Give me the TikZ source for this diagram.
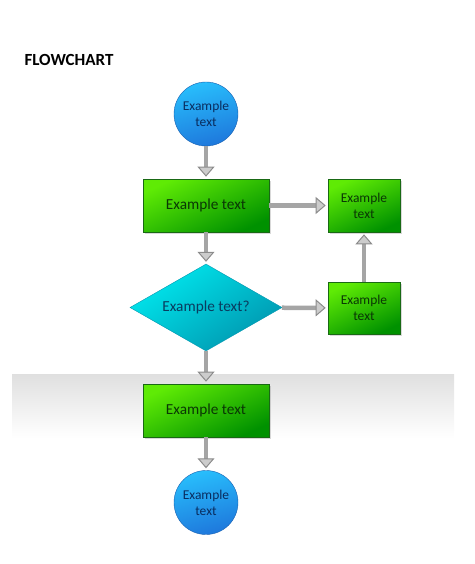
\documentclass[tikz,border=0pt]{standalone}
\usepackage{fontspec}
\setmainfont{Carlito}
\usetikzlibrary{arrows.meta,shapes.geometric,shadows}

\definecolor{greenlight}{RGB}{95,235,5}
\definecolor{greendark}{RGB}{0,145,0}
\definecolor{greenline}{RGB}{25,105,20}
\definecolor{bluelight}{RGB}{40,190,252}
\definecolor{bluedark}{RGB}{30,120,220}
\definecolor{cyanlight}{RGB}{0,232,238}
\definecolor{cyandark}{RGB}{0,150,175}
\definecolor{arrowgray}{RGB}{165,165,165}

\tikzset{
	greenbox/.style={rectangle, draw=greenline, line width=0.6pt, top color=greenlight, bottom color=greendark, shading angle=25, text={rgb,255:red,10;green,55;blue,5}, align=center, inner sep=2pt, drop shadow={opacity=0.3, shadow xshift=1.5pt, shadow yshift=-1.5pt}},
	bluecircle/.style={circle, draw=bluedark!80!black, line width=0.4pt, top color=bluelight, bottom color=bluedark, shading angle=15, text={rgb,255:red,10;green,45;blue,95}, minimum size=64pt, inner sep=0pt, align=center, font=\fontsize{13.5}{16}\selectfont},
	decision/.style={diamond, aspect=1.75, draw=cyandark, line width=0.4pt, top color=cyanlight, bottom color=cyandark, shading angle=35, text={rgb,255:red,10;green,60;blue,95}, minimum width=152pt, minimum height=87pt, inner sep=1pt, font=\fontsize{15.3}{17}\selectfont},
	flow/.style={arrowgray, line width=4.5pt, shorten >=2pt, -{Triangle[length=10pt, width=17pt, color=gray!90, fill=gray!40, line width=1pt]}}
}

\begin{document}
\begin{tikzpicture}[x=1pt, y=-1pt]
	\useasboundingbox (0,0) rectangle (474,564);
	% band
	\shade[top color=gray!25, bottom color=white] (12,374) rectangle (454,438);

	\node[anchor=west, font=\bfseries\fontsize{17}{19}\selectfont] (title) at (21,60) {FLOWCHART};

	\node[bluecircle] (start) at (206,114) {Example\\text};
	\node[greenbox, minimum width=126pt, minimum height=53pt, font=\fontsize{15.3}{17}\selectfont] (step1) at (206,205.5) {Example text};
	\node[greenbox, minimum width=72pt, minimum height=53pt, font=\fontsize{13.5}{16}\selectfont] (side1) at (364,205.5) {Example\\text};
	\node[decision] (check) at (206,307.5) {Example text?};
	\node[greenbox, minimum width=72pt, minimum height=52pt, font=\fontsize{13.5}{16}\selectfont] (side2) at (364,308) {Example\\text};
	\node[greenbox, minimum width=126pt, minimum height=53pt, font=\fontsize{15.3}{17}\selectfont] (step2) at (206,410.5) {Example text};
	\node[bluecircle] (stop) at (206,502.5) {Example\\text};

	% main line
	\draw[flow] (start) -- (step1);
	\draw[flow] (step1) -- (check);
	\draw[flow] (check) -- (step2);
	\draw[flow] (step2) -- (stop);
	% side branch
	\draw[flow] (step1) -- (side1);
	\draw[flow] (check) -- (side2);
	\draw[flow] (side2) -- (side1);
\end{tikzpicture}
\end{document}
